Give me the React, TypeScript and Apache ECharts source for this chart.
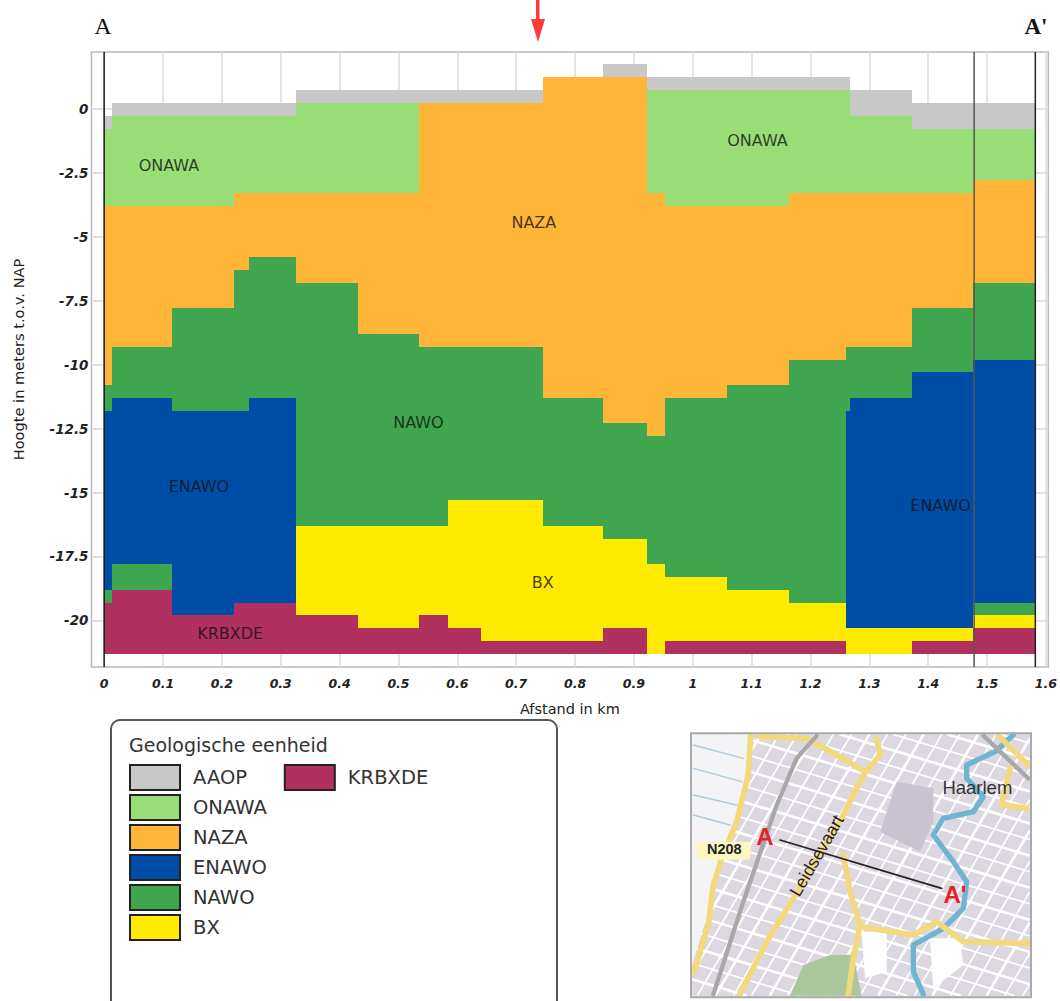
import React, { useEffect, useRef } from "react";
import * as echarts from "echarts";

const columnEdges = [0, 0.013, 0.115, 0.221, 0.246, 0.326, 0.432, 0.535, 0.584, 0.64, 0.745, 0.848, 0.923, 0.953, 1.059, 1.164, 1.261, 1.267, 1.373, 1.476, 1.581];
const xTicks = [0, 0.1, 0.2, 0.3, 0.4, 0.5, 0.6, 0.7, 0.8, 0.9, 1, 1.1, 1.2, 1.3, 1.4, 1.5, 1.6];
const yTicks = [0, -2.5, -5, -7.5, -10, -12.5, -15, -17.5, -20];

// [column, top, bottom] in metres
const AAOP = [[0, -0.3, -0.8], [1, 0.21, -0.3], [2, 0.21, -0.3], [3, 0.21, -0.3], [4, 0.21, -0.3], [5, 0.72, 0.21], [6, 0.72, 0.21], [7, 0.72, 0.21], [8, 0.72, 0.21], [9, 0.72, 0.21], [11, 1.74, 1.23], [12, 1.23, 0.72], [13, 1.23, 0.72], [14, 1.23, 0.72], [15, 1.23, 0.72], [16, 1.23, 0.72], [17, 0.72, -0.3], [18, 0.21, -0.8], [19, 0.21, -0.8]];
const ONAWA = [[0, -0.8, -3.8], [1, -0.3, -3.8], [2, -0.3, -3.8], [3, -0.3, -3.3], [4, -0.3, -3.3], [5, 0.21, -3.3], [6, 0.21, -3.3], [12, 0.72, -3.3], [13, 0.72, -3.8], [14, 0.72, -3.8], [15, 0.72, -3.3], [16, 0.72, -3.3], [17, -0.3, -3.3], [18, -0.8, -3.3], [19, -0.8, -2.8]];
const NAZA = [[0, -3.8, -10.8], [1, -3.8, -9.3], [2, -3.8, -7.8], [3, -3.3, -6.3], [4, -3.3, -5.8], [5, -3.3, -6.8], [6, -3.3, -8.8], [7, 0.21, -9.3], [8, 0.21, -9.3], [9, 0.21, -9.3], [10, 1.23, -11.3], [11, 1.23, -12.3], [12, -3.3, -12.8], [13, -3.8, -11.3], [14, -3.8, -10.8], [15, -3.3, -9.8], [16, -3.3, -9.3], [17, -3.3, -9.3], [18, -3.3, -7.8], [19, -2.8, -6.8]];
const ENAWO = [[0, -11.8, -18.8], [1, -11.3, -17.8], [2, -11.8, -19.8], [3, -11.8, -19.3], [4, -11.3, -19.3], [16, -11.8, -20.3], [17, -11.3, -20.3], [18, -10.3, -20.3], [19, -9.8, -19.3]];
const NAWO = [[0, -10.8, -11.8], [0, -18.8, -19.3], [1, -9.3, -11.3], [1, -17.8, -18.8], [2, -7.8, -11.8], [3, -6.3, -11.8], [4, -5.8, -11.3], [5, -6.8, -16.3], [6, -8.8, -16.3], [7, -9.3, -16.3], [8, -9.3, -15.3], [9, -9.3, -15.3], [10, -11.3, -16.3], [11, -12.3, -16.8], [12, -12.8, -17.8], [13, -11.3, -18.3], [14, -10.8, -18.8], [15, -9.8, -19.3], [16, -9.3, -11.8], [17, -9.3, -11.3], [18, -7.8, -10.3], [19, -6.8, -9.8], [19, -19.3, -19.8]];
const BX = [[5, -16.3, -19.8], [6, -16.3, -20.3], [7, -16.3, -19.8], [8, -15.3, -20.3], [9, -15.3, -20.8], [10, -16.3, -20.8], [11, -16.8, -20.3], [12, -17.8, -21.3], [13, -18.3, -20.8], [14, -18.8, -20.8], [15, -19.3, -20.8], [16, -20.3, -21.3], [17, -20.3, -21.3], [18, -20.3, -20.8], [19, -19.8, -20.3]];
const KRBXDE = [[0, -19.3, -21.3], [1, -18.8, -21.3], [2, -19.8, -21.3], [3, -19.3, -21.3], [4, -19.3, -21.3], [5, -19.8, -21.3], [6, -20.3, -21.3], [7, -19.8, -21.3], [8, -20.3, -21.3], [9, -20.8, -21.3], [10, -20.8, -21.3], [11, -20.3, -21.3], [13, -20.8, -21.3], [14, -20.8, -21.3], [15, -20.8, -21.3], [18, -20.8, -21.3], [19, -20.3, -21.3]];

const units = [
  { name: "AAOP", color: "#c8c8c8", cells: AAOP },
  { name: "ONAWA", color: "#99dd77", cells: ONAWA },
  { name: "NAZA", color: "#ffb638", cells: NAZA },
  { name: "ENAWO", color: "#004da8", cells: ENAWO },
  { name: "NAWO", color: "#3fa54f", cells: NAWO },
  { name: "BX", color: "#ffeb00", cells: BX },
  { name: "KRBXDE", color: "#b03060", cells: KRBXDE },
];

const unitLabels = [
  { name: "ONAWA", value: [0.11, -2.2] },
  { name: "ONAWA", value: [1.11, -1.25] },
  { name: "NAZA", value: [0.73, -4.46] },
  { name: "NAWO", value: [0.534, -12.26] },
  { name: "ENAWO", value: [0.161, -14.76] },
  { name: "ENAWO", value: [1.421, -15.51] },
  { name: "BX", value: [0.745, -18.51] },
  { name: "KRBXDE", value: [0.214, -20.5] },
];

const sectionLines = [
  { x: 0, color: "#1a1a1a" },
  { x: 1.478, color: "#555555" },
  { x: 1.582, color: "#222222" },
];

// inset map, drawn in the reference's 3x crop space
const m = (p: number[]) => [680 + p[0] / 3, 725 + p[1] / 3];
const poly = (points: number[][], stroke: string, w: number, z = 10) => ({
  type: "polyline", z, silent: true,
  shape: { points: points.map(m) },
  style: { stroke, lineWidth: w / 3, fill: "none", lineJoin: "round", lineCap: "round" },
});
const area = (points: number[][], fill: string, z = 10) => ({
  type: "polygon", z, silent: true, shape: { points: points.map(m) }, style: { fill },
});
// keeps a street inside the inset's frame
const clipToMap = (a: number[], b: number[]) => {
  const [xa, ya, xb, yb] = [36, 28, 1049, 812];
  let t0 = 0, t1 = 1;
  const dx = b[0] - a[0], dy = b[1] - a[1];
  const checks = [[-dx, a[0] - xa], [dx, xb - a[0]], [-dy, a[1] - ya], [dy, yb - a[1]]];
  for (const [p, q] of checks) {
    if (p === 0) { if (q < 0) return null; continue; }
    const r = q / p;
    if (p < 0) { if (r > t1) return null; if (r > t0) t0 = r; }
    else { if (r < t0) return null; if (r < t1) t1 = r; }
  }
  return [[a[0] + t0 * dx, a[1] + t0 * dy], [a[0] + t1 * dx, a[1] + t1 * dy]];
};

const mapGraphics = () => {
  const els: any[] = [];
  const bx = m([33, 25]);
  els.push({ type: "rect", z: 9, silent: true, shape: { x: bx[0], y: bx[1], width: 340, height: 264 }, style: { fill: "#dcd7e0" } });
  const street = (a: number[], b: number[], w: number) => {
    const c = clipToMap(a, b);
    if (c) { const s: any = poly(c, "#ffffff", w); s.style.lineCap = "butt"; els.push(s); }
  };
  for (let i = -14; i < 24; i++) {
    const cx = 500 + i * 46, cy = 420 + i * 14;
    street([cx - 330, cy + 560], [cx + 330, cy - 560], i % 3 === 0 ? 8 : 5);
  }
  for (let i = -12; i < 14; i++) {
    const cx = 500 - i * 14, cy = 420 + i * 44;
    street([cx - 800, cy - 240], [cx + 800, cy + 240], i % 2 === 0 ? 8 : 5);
  }
  els.push(area([[36, 28], [215, 28], [195, 150], [175, 280], [110, 430], [85, 560], [36, 720]], "#f4f3f5", 11));
  [[40, 60, 190, 100], [40, 130, 185, 170], [40, 210, 170, 240], [40, 270, 150, 300]].forEach((l) =>
    els.push({ ...poly([[l[0], l[1]], [l[2], l[3]]], "#a8cfe0", 4), z: 11 })
  );
  els.push(area([[650, 170], [760, 190], [760, 290], [720, 380], [600, 320], [630, 230]], "#c9c3cf", 11));
  els.push(area([[330, 812], [370, 720], [450, 690], [520, 690], [545, 812]], "#aac79b", 11));
  els.push(area([[545, 620], [620, 620], [620, 740], [555, 760]], "#ffffff", 11));
  els.push(area([[750, 640], [840, 640], [850, 720], [760, 790]], "#ffffff", 11));
  els.push(poly([[1000, 30], [945, 80], [860, 120], [860, 160], [910, 215], [880, 260], [790, 280], [760, 330], [820, 410], [860, 470], [850, 550], [790, 610], [700, 660], [700, 740], [730, 808]], "#6fb5d3", 16, 12));
  const yellow = "#f2d97c";
  [
    [[212, 30], [205, 150], [170, 290], [125, 400], [100, 480], [85, 600], [42, 740]],
    [[180, 808], [260, 650], [340, 520], [490, 270], [550, 150], [600, 90], [590, 40]],
    [[240, 35], [380, 40], [470, 90], [555, 140]],
    [[490, 390], [510, 500], [540, 600], [520, 700], [505, 808]],
    [[540, 605], [700, 630], [770, 590], [850, 650], [1045, 655]],
    [[955, 32], [1045, 120]],
    [[990, 130], [965, 240], [1040, 250]],
  ].forEach((r) => els.push(poly(r, yellow, 17, 13)));
  els.push(poly([[100, 808], [190, 530], [290, 240], [350, 100], [410, 32]], "#a8a8a8", 13, 14));
  els.push(poly([[910, 32], [1045, 160]], "#a8a8a8", 13, 14));
  els.push({ type: "rect", z: 15, silent: true, shape: { x: bx[0], y: bx[1], width: 340, height: 264 }, style: { fill: "none", stroke: "#aaaaaa", lineWidth: 2 } });
  const n = m([50, 350]);
  els.push({ type: "rect", z: 16, silent: true, shape: { x: n[0], y: n[1], width: 54, height: 18, r: 3 }, style: { fill: "#fdf5c2" } });
  const txt = (p: number[], text: string, font: string, fill: string, rotation = 0) => {
    const c = m(p);
    return { type: "text", z: 17, silent: true, x: c[0], y: c[1], rotation, style: { text, font, fill, align: "center", verticalAlign: "middle" } };
  };
  els.push(txt([133, 373], "N208", "bold 14.5px 'Liberation Sans'", "#222222"));
  els.push(txt([892, 187], "Haarlem", "18.5px 'Liberation Sans'", "#333333"));
  els.push(txt([410, 392], "Leidsevaart", "17.5px 'Liberation Sans'", "#222222", Math.PI / 3));
  els.push(poly([[300, 345], [785, 490]], "#222222", 5, 16));
  els.push(txt([255, 333], "A", "bold 24px 'Liberation Sans'", "#e8202a"));
  els.push(txt([825, 507], "A'", "bold 24px 'Liberation Sans'", "#e8202a"));
  return els;
};

const App = () => {
  const ref = useRef<HTMLDivElement>(null);
  useEffect(() => {
    const chart = echarts.init(ref.current!, null, { renderer: "svg" });
    const renderCell = (params: any, api: any) => {
      const c = api.value(0);
      const a = api.coord([columnEdges[c], api.value(1)]);
      const b = api.coord([columnEdges[c + 1], api.value(2)]);
      const x0 = Math.round(a[0]), x1 = Math.round(b[0]);
      const y0 = Math.round(a[1]), y1 = Math.round(b[1]);
      return {
        type: "rect",
        shape: { x: x0, y: y0, width: x1 - x0, height: y1 - y0 },
        style: { fill: api.visual("color") },
      };
    };
    const gridLine = { lineStyle: { color: "#dcdcdc", width: 1.5 } };
    const labelFont = { fontFamily: "'DejaVu Sans'", fontWeight: "bold" as const, fontStyle: "italic" as const, color: "#222222" };
    const option: any = {
      animation: false,
      backgroundColor: "#ffffff",
      textStyle: { fontFamily: "'DejaVu Sans'" },
      grid: { left: 91.5, top: 52, width: 958, height: 615, show: true, backgroundColor: "#ffffff", borderColor: "#b8b8b8", borderWidth: 1.5 },
      xAxis: {
        type: "value", min: -0.0215, max: 1.604,
        name: "Afstand in km", nameLocation: "middle", nameGap: 34,
        nameTextStyle: { fontSize: 14.5, color: "#222222", fontFamily: "'DejaVu Sans'" },
        axisLine: { show: false },
        axisTick: { show: true, length: 7, customValues: xTicks, lineStyle: { color: "#dcdcdc", width: 1.5 } },
        axisLabel: { customValues: xTicks, margin: 10, fontSize: 12.5, ...labelFont, showMinLabel: true, showMaxLabel: true },
        splitLine: { show: true, ...gridLine },
      },
      yAxis: {
        type: "value", min: -21.82, max: 2.22,
        name: "Hoogte in meters t.o.v. NAP", nameLocation: "middle", nameGap: 66,
        nameTextStyle: { fontSize: 14.6, color: "#222222", fontFamily: "'DejaVu Sans'" },
        axisLine: { show: false },
        axisTick: { show: true, length: 12, customValues: yTicks, lineStyle: { color: "#dcdcdc", width: 1.5 } },
        axisLabel: { customValues: yTicks, margin: 3, fontSize: 13.5, ...labelFont },
        splitLine: { show: true, ...gridLine },
      },
      legend: {
        type: "plain", left: 129, top: 764, height: 180, orient: "vertical", padding: 0,
        icon: "rect", itemWidth: 50, itemHeight: 25, itemGap: 3, selectedMode: false,
        data: units.map((u) => u.name),
        itemStyle: { borderColor: "#222222", borderWidth: 2 },
        textStyle: { fontSize: 19.5, lineHeight: 25, height: 25, color: "#333333", fontFamily: "'DejaVu Sans'", padding: [0, 14, 0, 8] },
      },
      series: [
        ...units.map((u) => ({
          type: "custom", name: u.name, renderItem: renderCell, data: u.cells,
          itemStyle: { color: u.color }, encode: { x: 0, y: 1 }, clip: true, silent: true,
        })),
        ...sectionLines.map((l) => ({
          type: "line", name: "section", showSymbol: false, silent: true,
          lineStyle: { color: l.color, width: 1.5 }, z: 5,
          data: [[l.x, 2.22], [l.x, -21.82]],
        })),
        {
          type: "scatter", name: "unit labels", symbolSize: 0, z: 6, silent: true, data: unitLabels,
          label: { show: true, position: "inside", formatter: "{b}", fontSize: 16, color: "#111111", fontFamily: "'DejaVu Sans'" },
        },
      ],
      graphic: [
        { type: "rect", z: 0, silent: true, shape: { x: 111, y: 720, width: 446, height: 320, r: 9 }, style: { fill: "#ffffff", stroke: "#555555", lineWidth: 2 } },
        { type: "text", z: 1, silent: true, x: 129, y: 745, style: { text: "Geologische eenheid", font: "19px 'DejaVu Sans'", fill: "#333333", verticalAlign: "middle" } },
        { type: "text", z: 1, silent: true, x: 103, y: 26, style: { text: "A", font: "24px 'Liberation Serif'", fill: "#111111", align: "center", verticalAlign: "middle" } },
        { type: "text", z: 1, silent: true, x: 1036, y: 26, style: { text: "A'", font: "bold 23px 'Liberation Serif'", fill: "#111111", align: "center", verticalAlign: "middle" } },
        { type: "rect", z: 8, silent: true, shape: { x: 536, y: 0, width: 3.5, height: 20 }, style: { fill: "#ff3b3b" } },
        { type: "polygon", z: 8, silent: true, shape: { points: [[531, 19], [545, 19], [538, 42]] }, style: { fill: "#ff3b3b" } },
        ...mapGraphics(),
      ],
    };
    chart.setOption(option);
    return () => chart.dispose();
  }, []);
  return <div ref={ref} style={{ position: "absolute", left: 0, top: 0, width: 1060, height: 1001, overflow: "hidden" }} />;
};

export default App;
